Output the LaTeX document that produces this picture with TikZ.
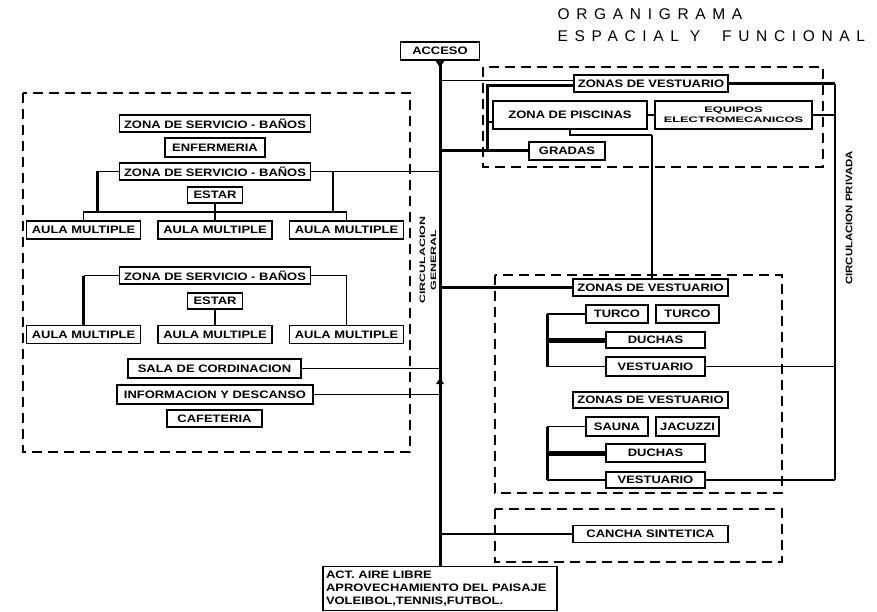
\documentclass[tikz,border=0pt]{standalone}
\usepackage{fontspec}
\setmainfont{Liberation Sans}
\newfontfamily\cadfont[FakeStretch=1.2]{Liberation Sans}
\newfontfamily\cadancha[FakeStretch=1.6]{Liberation Sans}
\newfontfamily\titulofont[LetterSpace=43]{Liberation Sans}

\begin{document}
\begin{tikzpicture}[
    x=1pt, y=-1pt,
    line width=1.3pt,
    caja/.style ={
        draw,
        line width=1.2pt,
        inner sep=0pt,
        minimum height=17,
        font=\cadfont\bfseries\fontsize{10.8}{12}\selectfont
    },
    marco/.style ={
        line width=1.5pt,
        dash pattern=on 10pt off 6pt
    },
    grueso/.style ={line width=3pt},
    ancho/.style ={line width=5pt}
    ]
    \useasboundingbox (0,0) rectangle (877,612);

    % titulo
    \node[anchor=north west, align=left, inner sep=0pt,
        font=\titulofont\fontsize{15.5}{22}\selectfont] (titulo) at (557,8)
        {ORGANIGRAMA\\ESPACIAL Y\ \ FUNCIONAL};

    % zonas punteadas
    \draw[marco] (23,93) rectangle (410,452);
    \draw[marco] (483,67) rectangle (823,167);
    \draw[marco] (495,275) rectangle (782,493);
    \draw[marco] (495,509) rectangle (782,562);

    % eje principal
    \node[caja, minimum width=79, minimum height=18] (acceso) at (440,51) {ACCESO};
    \node[caja, minimum width=234, minimum height=44, align=left, anchor=north,
        font=\cadfont\bfseries\fontsize{10.8}{13}\selectfont] (aire) at (440,566)
        {\parbox{228pt}{ACT. AIRE LIBRE\\APROVECHAMIENTO DEL PAISAJE\\VOLEIBOL,TENNIS,FUTBOL.}};
    \draw[line width=3pt] (acceso.south) -- (aire.north);
    \fill (acceso.south) ++(-4.5,0) -- ++(9,0) -- ++(-4.5,7) -- cycle;
    \coordinate (flecha) at (440,384);
    \fill (flecha) ++(-4,0) -- ++(8,0) -- ++(-4,-6) -- cycle;
    \node[rotate=90, align=center, inner sep=0pt,
        font=\cadancha\bfseries\fontsize{7.8}{11}\selectfont] (cgeneral) at (428,260)
        {CIRCULACION\\GENERAL};

    % bloque izquierdo
    \node[caja, minimum width=191] (zsb1) at (215,123.5) {ZONA DE SERVICIO - BAÑOS};
    \node[caja, minimum width=100, minimum height=19] (enf) at (215,147.5) {ENFERMERIA};
    \node[caja, minimum width=191] (zsb2) at (215,171.5) {ZONA DE SERVICIO - BAÑOS};
    \node[caja, minimum width=55, minimum height=16] (estar1) at (215,195) {ESTAR};
    \node[caja, minimum width=191] (zsb3) at (215,275.5) {ZONA DE SERVICIO - BAÑOS};
    \node[caja, minimum width=55, minimum height=16] (estar2) at (215,301) {ESTAR};
    \foreach \nom/\x/\y in {a1/83.5/230, a2/215/230, a3/346.5/230, a4/83.5/334.5, a5/215/334.5, a6/346.5/334.5}
        \node[caja, minimum width=114, minimum height=18] (\nom) at (\x,\y) {AULA MULTIPLE};
    \node[caja, minimum width=173, minimum height=19] (sala) at (214.5,368.5) {SALA DE CORDINACION};
    \node[caja, minimum width=196, minimum height=19] (info) at (215,394.5) {INFORMACION Y DESCANSO};
    \node[caja, minimum width=95] (cafe) at (214.5,418.5) {CAFETERIA};

    \coordinate (bus1) at (215,212);
    \coordinate (g1) at (97,212);
    \coordinate (g2) at (333,212);
    \draw (a1.north) |- (bus1) -| (a3.north);
    \draw (estar1.south) -- (a2.north);
    \draw (zsb2.west) -- (zsb2.west -| g1);
    \draw[grueso] (zsb2.west -| g1) -- (g1);
    \draw (zsb2.east -| g2) -- (g2);
    \draw (zsb2.east) -- (zsb2.east -| acceso.south);
    \draw (zsb3.west) -- (zsb3.west -| a4.north);
    \draw[grueso] (zsb3.west -| a4.north) -- (a4.north);
    \draw (zsb3.east) -| (a6.north);
    \draw (estar2.south) -- (a5.north);
    \draw (sala.east) -- (sala.east -| acceso.south);
    \draw (info.east) -- (info.east -| acceso.south);

    % piscinas
    \node[caja, minimum width=154] (zvest1) at (651,83.5) {ZONAS DE VESTUARIO};
    \node[caja, minimum width=154, minimum height=28] (piscinas) at (570,115) {ZONA DE PISCINAS};
    \node[caja, minimum width=157, minimum height=28, align=center,
        font=\cadancha\bfseries\fontsize{8}{10}\selectfont] (equipos) at (733.5,115)
        {EQUIPOS\\ELECTROMECANICOS};
    \node[caja, minimum width=76, minimum height=18] (gradas) at (567,151) {GRADAS};

    \coordinate (p1) at (487,150);
    \coordinate (q1) at (652,135);
    \coordinate (priv) at (835,84);
    \draw ([yshift=3]zvest1.west) -- ([yshift=3]zvest1.west -| acceso.south);
    \draw[grueso] ([yshift=-2.5]zvest1.west) -| (p1);
    \draw[grueso] (gradas.west) -- (gradas.west -| acceso.south);
    \draw ([yshift=-7]piscinas.west) -- ([yshift=-7]piscinas.west -| p1);
    \draw (piscinas.east) -- (equipos.west);
    \draw (piscinas.south) |- (q1);
    \draw[grueso] (zvest1.east) -- (zvest1.east -| priv);
    \draw (equipos.east) -- (equipos.east -| priv);

    % vestuarios
    \node[caja, minimum width=155] (zvest2) at (650.5,287.5) {ZONAS DE VESTUARIO};
    \node[caja, minimum width=62, minimum height=18] (turco1) at (617,314) {TURCO};
    \node[caja, minimum width=63, minimum height=18] (turco2) at (687.5,314) {TURCO};
    \node[caja, minimum width=99, minimum height=16] (duchas1) at (655.5,340) {DUCHAS};
    \node[caja, minimum width=99, minimum height=19] (vest1) at (655.5,366.5) {VESTUARIO};
    \node[caja, minimum width=155, minimum height=16] (zvest3) at (650.5,400) {ZONAS DE VESTUARIO};
    \node[caja, minimum width=62, minimum height=19] (sauna) at (617,426.5) {SAUNA};
    \node[caja, minimum width=63, minimum height=19] (jacuzzi) at (687.5,426.5) {JACUZZI};
    \node[caja, minimum width=99, minimum height=18] (duchas2) at (655.5,453) {DUCHAS};
    \node[caja, minimum width=99, minimum height=16] (vest2) at (655.5,480) {VESTUARIO};

    \coordinate (k1) at (547,313);
    \coordinate (k2) at (547,427);
    \draw (q1) -- (q1 |- zvest2.north);
    \draw[grueso] (zvest2.west) -- (zvest2.west -| acceso.south);
    \draw (turco1.west) -- (turco1.west -| k1);
    \draw[grueso] (turco1.west -| k1) -- (vest1.west -| k1);
    \draw[ancho] (duchas1.west -| k1) -- (duchas1.west);
    \draw (vest1.west) -- (vest1.west -| k1);
    \draw (sauna.west) -- (sauna.west -| k2);
    \draw[grueso] (sauna.west -| k2) -- (vest2.west -| k2);
    \draw[ancho] (duchas2.west -| k2) -- (duchas2.west);
    \draw (vest2.west) -- (vest2.west -| k2);
    \draw (vest1.east) -- (vest1.east -| priv);
    \draw (vest2.east) -- (vest2.east -| priv);
    \draw (priv) -- (vest2.east -| priv);
    \node[rotate=90, inner sep=0pt,
        font=\cadfont\bfseries\fontsize{9.5}{11}\selectfont] (cprivada) at (849,218)
        {CIRCULACION PRIVADA};

    % cancha
    \node[caja, minimum width=155] (cancha) at (650.5,534) {CANCHA SINTETICA};
    \draw (cancha.west) -- (cancha.west -| acceso.south);

\end{tikzpicture}
\end{document}
